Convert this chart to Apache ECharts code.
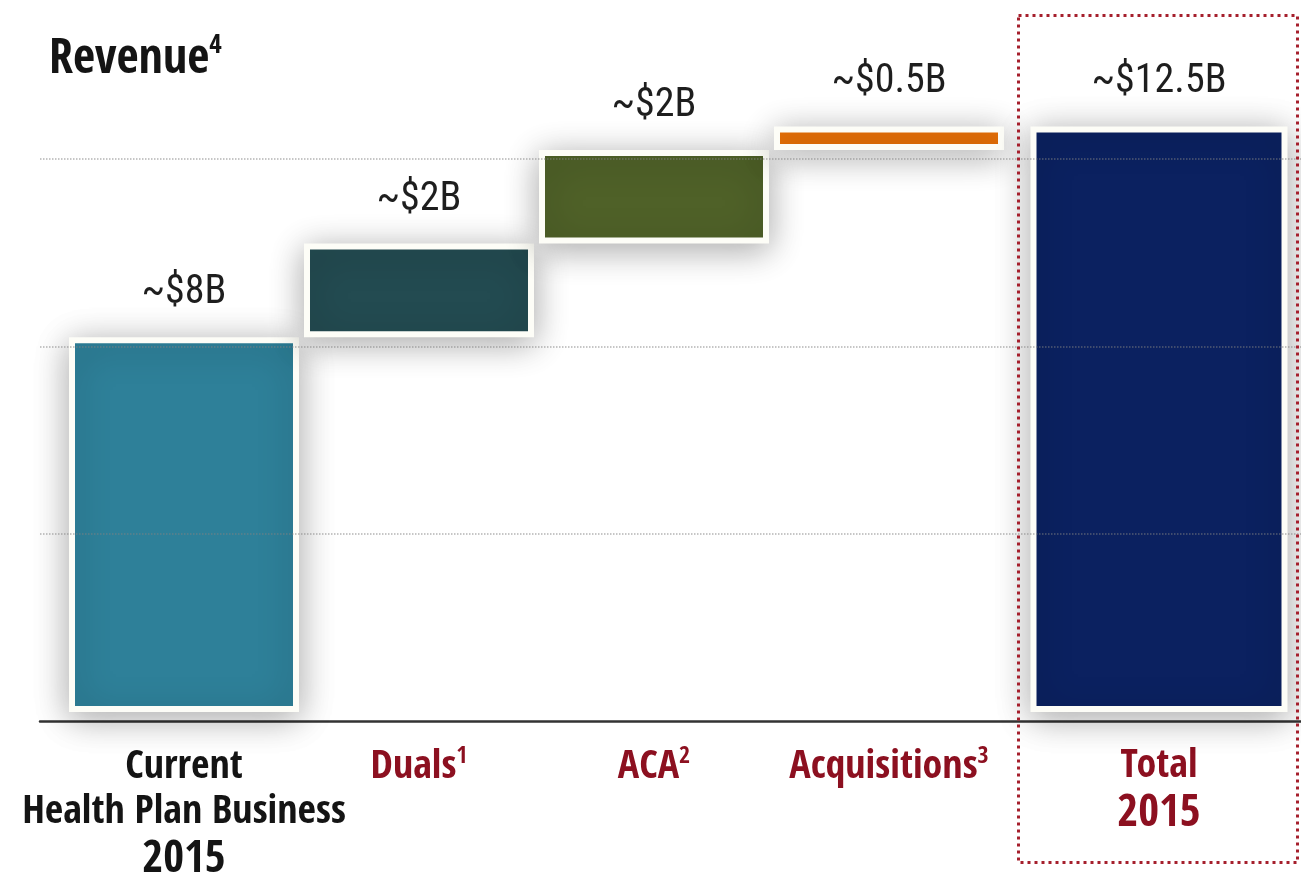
<!DOCTYPE html>
<html>
<head>
<meta charset="utf-8">
<script src="https://cdn.jsdelivr.net/npm/echarts@6/dist/echarts.min.js"></script>
<style>
  html, body { margin: 0; padding: 0; background: #ffffff; }
  #chart { width: 1301px; height: 875px; }
</style>
</head>
<body>
<div id="chart"></div>
<script>
// Revenue bridge: current business plus growth drivers, ending in the 2015 total
const stepCategories = ['Current Health Plan Business', 'Duals', 'ACA', 'Acquisitions'];
const stepLines = [['Current', 'Health Plan Business'], ['Duals'], ['ACA'], ['Acquisitions']];
const stepFootnotes = ['', '1', '2', '3'];
const stepYears = ['2015', '', '', ''];
const totalCategory = ['Total'];
const totalYear = '2015';

// Revenue in $B
const steps = [8, 2, 2, 0.5];
const totalValue = 12.5;
const barColors = ['#2e8099', '#234b51', '#4f6128', '#eb7207'];
const totalColor = '#0b2160';

// Invisible base under each floating step
const bases = [];
let running = 0;
steps.forEach(v => { bases.push(running); running += v; });

const BOLD_FONT = '"Open Sans Condensed", "Roboto Condensed", "DejaVu Sans Condensed", sans-serif';
const VALUE_FONT = '"Roboto Condensed", "DejaVu Sans Condensed", sans-serif';
const RED = '#8c1020';
const INK = '#141414';

const barStyle = {
  borderColor: '#fdfdf7',
  borderWidth: 6,
  shadowBlur: 34,
  shadowColor: 'rgba(0,0,0,0.33)',
  shadowOffsetX: 0,
  shadowOffsetY: 6
};

const valueLabel = {
  show: true,
  position: 'top',
  distance: 24,
  fontFamily: VALUE_FONT,
  fontWeight: 'normal',
  fontSize: 40,
  color: '#1e1e1e',
  formatter: p => '~$' + p.value + 'B'
};

const labelRich = {
  k:   { fontFamily: BOLD_FONT, fontSize: 40, fontWeight: 'bold', color: INK, lineHeight: 45 },
  ky:  { fontFamily: BOLD_FONT, fontSize: 45, fontWeight: 'bold', color: INK, lineHeight: 50 },
  r:   { fontFamily: BOLD_FONT, fontSize: 40, fontWeight: 'bold', color: RED, lineHeight: 45 },
  ry:  { fontFamily: BOLD_FONT, fontSize: 45, fontWeight: 'bold', color: RED, lineHeight: 50 },
  sup: { fontFamily: BOLD_FONT, fontSize: 24, fontWeight: 'bold', color: RED, lineHeight: 30, verticalAlign: 'top' }
};

function stepLabel(value, index) {
  const main = index === 0 ? 'k' : 'r';
  const note = stepFootnotes[index];
  const lines = stepLines[index].map((ln, j) => {
    const last = j === stepLines[index].length - 1;
    return '{' + main + '|' + ln + '}' + (last && note ? '{sup|' + note + '}' : '');
  });
  if (stepYears[index]) lines.push('{' + main + 'y|' + stepYears[index] + '}');
  return lines.join('\n');
}

function totalLabel(value) {
  return '{r|' + value + '}\n{ry|' + totalYear + '}';
}

const hiddenValueAxis = (gridIndex, max) => ({
  gridIndex, type: 'value', min: 0, max, show: false, splitLine: { show: false }
});

const chart = echarts.init(document.getElementById('chart'), null, { renderer: 'canvas' });

chart.setOption({
  animation: false,
  backgroundColor: '#ffffff',
  title: {
    text: '{t|Revenue}{s|4}',
    left: 49,
    top: 32,
    padding: 0,
    textStyle: {
      rich: {
        t: { fontFamily: BOLD_FONT, fontSize: 48, fontWeight: 'bold', color: INK, lineHeight: 56 },
        s: { fontFamily: BOLD_FONT, fontSize: 27, fontWeight: 'bold', color: INK, lineHeight: 40, verticalAlign: 'top' }
      }
    }
  },
  grid: [
    { left: 40, right: 0, top: 0, bottom: 154, outerBoundsMode: 'none' },      // reference lines and baseline
    { left: 66.5, right: 294.5, top: 0, bottom: 163, outerBoundsMode: 'none' }, // bridge steps
    { left: 1024, right: 7, top: 0, bottom: 163, outerBoundsMode: 'none' }      // total
  ],
  xAxis: [
    {
      gridIndex: 0, type: 'value', min: 0, max: 1,
      axisLine: { show: true, onZero: false, lineStyle: { color: '#333333', width: 2.5 } },
      axisTick: { show: false }, axisLabel: { show: false }, splitLine: { show: false }
    },
    {
      gridIndex: 1, type: 'category', data: stepCategories,
      axisLine: { show: false }, axisTick: { show: false },
      axisLabel: { interval: 0, margin: 33, formatter: stepLabel, rich: labelRich }
    },
    {
      gridIndex: 2, type: 'category', data: totalCategory,
      axisLine: { show: false }, axisTick: { show: false },
      axisLabel: { interval: 0, margin: 32, formatter: totalLabel, rich: labelRich }
    }
  ],
  yAxis: [
    {
      gridIndex: 0, type: 'value', min: 0, max: 15.4, interval: 4, z: 10,
      axisLine: { show: false }, axisTick: { show: false }, axisLabel: { show: false },
      splitLine: {
        show: true, showMinLine: false, showMaxLine: false,
        lineStyle: { color: 'rgba(130,130,130,0.6)', type: 'dotted', width: 1.5 }
      }
    },
    hiddenValueAxis(1, 15.2),
    hiddenValueAxis(2, 15.2)
  ],
  series: [
    {
      name: 'base', type: 'bar', xAxisIndex: 1, yAxisIndex: 1, stack: 'bridge',
      barWidth: 230, silent: true,
      itemStyle: { color: 'rgba(0,0,0,0)' },
      emphasis: { disabled: true },
      data: bases
    },
    {
      name: 'step', type: 'bar', xAxisIndex: 1, yAxisIndex: 1, stack: 'bridge',
      barWidth: 230,
      itemStyle: barStyle,
      label: valueLabel,
      emphasis: { disabled: true },
      data: steps.map((v, i) => ({ value: v, itemStyle: { color: barColors[i] } }))
    },
    {
      name: 'total', type: 'bar', xAxisIndex: 2, yAxisIndex: 2,
      barWidth: 257,
      itemStyle: Object.assign({ color: totalColor }, barStyle),
      label: valueLabel,
      emphasis: { disabled: true },
      data: [totalValue]
    }
  ],
  graphic: [
    {
      type: 'rect', z: 50, silent: true,
      shape: { x: 1018.5, y: 15.5, width: 279, height: 847 },
      style: { fill: null, stroke: '#a51f2c', lineWidth: 3, lineDash: [3, 4] }
    }
  ]
});
</script>
</body>
</html>
